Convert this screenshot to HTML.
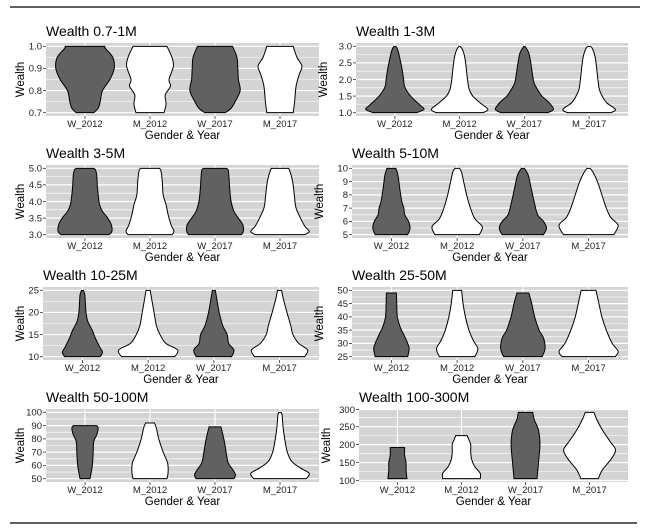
<!DOCTYPE html>
<html><head><meta charset="utf-8">
<style>
html,body{margin:0;padding:0;background:#fff;}
svg{display:block;font-family:"Liberation Sans",Arial,sans-serif;}
</style></head>
<body>
<svg id="chart" width="648" height="530" viewBox="0 0 648 530" xmlns="http://www.w3.org/2000/svg">
<line x1="10" y1="7" x2="640" y2="7" stroke="#000" stroke-width="1.2"/>
<line x1="10" y1="523" x2="637" y2="523" stroke="#000" stroke-width="1.2"/>
</svg>
<script>
const categories = ["W_2012","M_2012","W_2017","M_2017"];
const fills = ["#616161","#ffffff","#616161","#ffffff"];
const titles = ["Wealth 0.7-1M","Wealth 1-3M","Wealth 3-5M","Wealth 5-10M","Wealth 10-25M","Wealth 25-50M","Wealth 50-100M","Wealth 100-300M"];
const dataMins = [0.7,1.0,3.0,5,10,25,50,105];
const dataMaxs = [1.0,3.0,5.0,10,25,50,100,290];
const tickLabels = [
 ["0.7","0.8","0.9","1.0"],
 ["1.0","1.5","2.0","2.5","3.0"],
 ["3.0","3.5","4.0","4.5","5.0"],
 ["5","6","7","8","9","10"],
 ["10","15","20","25"],
 ["25","30","35","40","45","50"],
 ["50","60","70","80","90","100"],
 ["100","150","200","250","300"]
];
// violin profiles: [value, relative half-width]
const p1W12=[[0.70,.3],[0.72,.45],[0.75,.52],[0.80,.6],[0.85,.85],[0.90,1],[0.95,.95],[0.99,.7],[1.0,.68]];
const p1M12=[[0.70,.48],[0.74,.55],[0.78,.52],[0.82,.7],[0.85,.65],[0.91,.8],[0.95,.75],[1.0,.58]];
const p1W17=[[0.70,.35],[0.72,.55],[0.75,.69],[0.80,.86],[0.85,.8],[0.90,.78],[0.95,.75],[1.0,.6]];
const p1M17=[[0.70,.45],[0.75,.5],[0.82,.55],[0.87,.65],[0.91,.75],[0.95,.58],[1.0,.45]];
const p2W12=[[1.0,.75],[1.1,1],[1.2,.9],[1.4,.65],[1.6,.45],[1.8,.33],[2.0,.3],[2.3,.25],[2.6,.18],[2.8,.13],[2.95,.07],[3.0,.02]];
const p2M12=[[1.0,.8],[1.1,.97],[1.3,.7],[1.5,.45],[1.7,.33],[2.0,.27],[2.4,.22],[2.7,.17],[2.9,.1],[3.0,.02]];
const p2W17=[[1.0,.8],[1.1,1],[1.3,.85],[1.5,.6],[1.7,.45],[1.9,.33],[2.2,.27],[2.5,.22],[2.8,.15],[3.0,.02]];
const p2M17=[[1.0,.75],[1.1,.9],[1.3,.6],[1.5,.45],[1.7,.35],[2.0,.3],[2.4,.25],[2.7,.2],[2.95,.1],[3.0,.02]];
const p3W12=[[3.0,.82],[3.1,.92],[3.3,.9],[3.5,.78],[3.7,.6],[3.9,.5],[4.2,.45],[4.5,.42],[4.8,.4],[4.95,.36],[5.0,.3]];
const p3M12=[[3.0,.75],[3.1,.82],[3.3,.72],[3.6,.62],[3.9,.55],[4.2,.45],[4.6,.42],[4.9,.38],[5.0,.33]];
const p3W17=[[3.0,.9],[3.1,.97],[3.3,.95],[3.5,.8],[3.7,.65],[4.0,.55],[4.4,.5],[4.7,.48],[4.95,.45],[5.0,.38]];
const p3M17=[[3.0,.85],[3.1,1],[3.25,.85],[3.5,.7],[3.8,.55],[4.1,.5],[4.5,.45],[4.8,.38],[5.0,.3]];
const p4W12=[[5.0,.55],[5.5,.63],[6.0,.58],[6.5,.45],[7.0,.42],[7.5,.35],[8.5,.28],[9.5,.22],[10,.15]];
const p4M12=[[5.0,.75],[5.6,.85],[6.2,.6],[7.0,.45],[8.0,.32],[9.0,.22],[9.7,.15],[10,.08]];
const p4W17=[[5.0,.7],[5.5,.8],[6.0,.7],[6.5,.5],[7.5,.38],[8.5,.28],[9.5,.18],[10,.05]];
const p4M17=[[5.0,.85],[5.7,1],[6.3,.75],[7.0,.6],[8.0,.45],[9.0,.3],[9.7,.15],[10,.05]];
const p5W12=[[10,.6],[11,.68],[12,.6],[14,.45],[16,.33],[18,.18],[20,.12],[22,.1],[24,.08],[25,.03]];
const p5M12=[[10,.9],[11.5,1],[13,.6],[15,.4],[17,.28],[20,.2],[23,.12],[25,.07]];
const p5W17=[[10,.6],[11.5,.68],[13,.5],[15,.45],[17,.3],[20,.18],[23,.1],[25,.05]];
const p5M17=[[10,.85],[11.5,.95],[13,.65],[15,.45],[17,.38],[20,.25],[23,.13],[25,.07]];
const p6W12=[[25,.55],[28,.6],[30,.55],[33,.43],[36,.3],[40,.2],[45,.18],[49,.17]];
const p6M12=[[25,.6],[28,.7],[31,.55],[35,.4],[40,.28],[45,.2],[50,.15]];
const p6W17=[[25,.65],[28,.75],[32,.7],[35,.55],[40,.4],[45,.3],[49,.2]];
const p6M17=[[25,.9],[27,1],[30,.8],[35,.6],[40,.45],[45,.35],[50,.25]];
const p7W12=[[50,.17],[60,.25],[70,.28],[78,.3],[83,.4],[88,.45],[90,.4]];
const p7M12=[[50,.58],[55,.62],[62,.6],[70,.45],[80,.3],[88,.22],[92,.15]];
const p7W17=[[50,.65],[53,.7],[57,.6],[62,.45],[70,.38],[78,.32],[85,.25],[89,.2]];
const p7M17=[[50,.9],[54,1],[58,.7],[63,.4],[70,.25],[80,.16],[90,.1],[98,.07],[100,.03]];
const p8W12=[[105,.33],[130,.3],[150,.3],[170,.25],[192,.25]];
const p8M12=[[105,.65],[120,.65],[140,.45],[160,.35],[180,.32],[200,.32],[215,.25],[225,.2]];
const p8W17=[[105,.4],[150,.45],[200,.5],[240,.45],[270,.3],[290,.25]];
const p8M17=[[105,.3],[130,.45],[160,.75],[185,.9],[210,.7],[240,.45],[270,.25],[290,.15]];
const violins = [
 [p1W12,p1M12,p1W17,p1M17],[p2W12,p2M12,p2W17,p2M17],
 [p3W12,p3M12,p3W17,p3M17],[p4W12,p4M12,p4W17,p4M17],
 [p5W12,p5M12,p5W17,p5M17],[p6W12,p6M12,p6W17,p6M17],
 [p7W12,p7M12,p7W17,p7M17],[p8W12,p8M12,p8W17,p8M17]
];

const NS="http://www.w3.org/2000/svg";
const svg=document.getElementById('chart');
const layoutLeft=[46,356,46,352,43,352,46,359];
const layoutTop=[43,165,287,409];
function mk(tag,attrs,parent){const e=document.createElementNS(NS,tag);for(const k in attrs)e.setAttribute(k,attrs[k]);(parent||svg).appendChild(e);return e;}
function smooth(pts){
  let d="";
  for(let i=0;i<pts.length-1;i++){
    const p0=pts[Math.max(i-1,0)],p1=pts[i],p2=pts[i+1],p3=pts[Math.min(i+2,pts.length-1)];
    const c1x=p1[0]+(p2[0]-p0[0])/6,c1y=p1[1]+(p2[1]-p0[1])/6;
    const c2x=p2[0]-(p3[0]-p1[0])/6,c2y=p2[1]-(p3[1]-p1[1])/6;
    d+=` C${c1x.toFixed(2)},${c1y.toFixed(2)} ${c2x.toFixed(2)},${c2y.toFixed(2)} ${p2[0].toFixed(2)},${p2[1].toFixed(2)}`;
  }
  return d;
}
for(let p=0;p<8;p++){
  const col=p%2,row=Math.floor(p/2);
  const L=layoutLeft[p],R=col?628:319,T=layoutTop[row],H=73,B=T+H,W=R-L;
  const g=mk('g',{});
  
  
  const mn=dataMins[p],mx=dataMaxs[p],rng=mx-mn;
  const lo=mn-0.05*rng,hi=mx+0.05*rng;
  const yS=v=>B-(v-lo)/(hi-lo)*H;
  const unit=W/4.2;
  const xS=i=>L+unit*(0.6+i);
  const hw=unit*0.45;
  const bg=mk('rect',{x:L,y:T,width:W,height:H,fill:'#d4d4d4'},g);
  
  
  const ticks=tickLabels[p].map(Number);
  for(let i=0;i<ticks.length-1;i++){
    const m=(ticks[i]+ticks[i+1])/2;
    if(m>=lo&&m<=hi){const ln=mk('line',{x1:L,x2:R,y1:yS(m),y2:yS(m),stroke:'#fff','stroke-width':0.6},g);
      
      }
  }
  ticks.forEach((t,i)=>{
    if(t<lo-0.01*rng||t>hi+0.01*rng)return;
    const y=Math.max(T+0.5,yS(t));
    const ln=mk('line',{x1:L,x2:R,y1:y,y2:y,stroke:'#fff','stroke-width':1.2},g);
    
    
    mk('line',{x1:L-3,x2:L,y1:y,y2:y,stroke:'#333','stroke-width':0.8},g);
    const tx=mk('text',{x:L-4,y:y+3.3,'text-anchor':'end','font-size':9.5,fill:'#222'},g);
    tx.textContent=tickLabels[p][i];
    
    
  });
  categories.forEach((c,i)=>{
    const x=xS(i);
    const vl=mk('line',{x1:x,x2:x,y1:T,y2:B,stroke:'#fff','stroke-width':1.2},g);
    
    
    mk('line',{x1:x,x2:x,y1:B,y2:B+3,stroke:'#333','stroke-width':0.8},g);
    const tx=mk('text',{x:x,y:B+11,'text-anchor':'middle','font-size':9.5,fill:'#222'},g);
    tx.textContent=c;
    
    
  });
  violins[p].forEach((prof,i)=>{
    const cx=xS(i);
    const right=prof.map(q=>[cx+q[1]*hw,yS(q[0])]);
    const left=prof.slice().reverse().map(q=>[cx-q[1]*hw,yS(q[0])]);
    let d=`M${cx.toFixed(2)},${right[0][1].toFixed(2)} L${right[0][0].toFixed(2)},${right[0][1].toFixed(2)}`;
    d+=smooth(right);
    d+=` L${left[0][0].toFixed(2)},${left[0][1].toFixed(2)}`;
    d+=smooth(left);
    d+=' Z';
    const v=mk('path',{d:d,fill:fills[i],stroke:'#000','stroke-width':1},g);
    
    
  });
  const tt=mk('text',{x:L,y:T-7,'font-size':14,fill:'#000'},g);
  tt.textContent=titles[p];
  
  
  const xt=mk('text',{x:(L+R)/2,y:B+23,'text-anchor':'middle','font-size':11.5,fill:'#000'},g);
  xt.textContent='Gender & Year';
  
  
  const yx=col?L-29:24;
  const yt=mk('text',{x:yx,y:(T+B)/2,'text-anchor':'middle','font-size':11.5,fill:'#000',transform:`rotate(-90 ${yx} ${(T+B)/2})`},g);
  yt.textContent='Wealth';
  
  
}
</script>
</body></html>
